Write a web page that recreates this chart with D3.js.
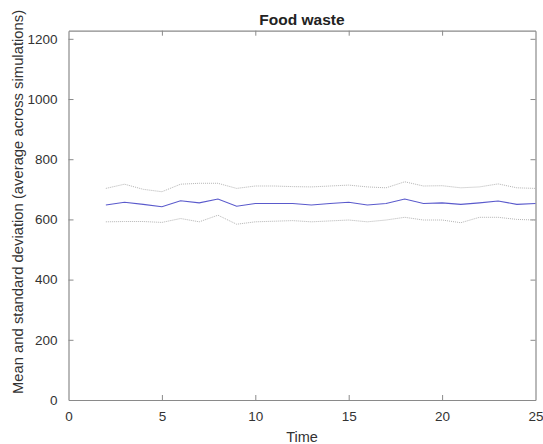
<!DOCTYPE html>
<html><head><meta charset="utf-8">
<script src="https://cdn.jsdelivr.net/npm/d3@7"></script>
<style>
body{margin:0;background:#fff;}
svg{display:block;font-family:"Liberation Sans",Arial,sans-serif;}
</style></head>
<body><svg id="c" width="543" height="444"></svg>
<script>
const time = [2,3,4,5,6,7,8,9,10,11,12,13,14,15,16,17,18,19,20,21,22,23,24,25];
const meanVals  = [648,657,650,642,662,655,668,644,653,653,653,648,653,657,648,653,668,653,655,650,655,661,650,653];
const upperVals = [703,717,700,692,717,720,720,703,711,711,709,708,711,714,708,705,725,711,712,705,708,718,705,703];
const lowerVals = [592,593,593,590,603,592,614,584,592,594,596,592,595,598,592,598,607,598,598,589,607,607,600,598];
const xTicks = [0,5,10,15,20,25];
const yTicks = [0,200,400,600,800,1000,1200];

const svg = d3.select("#c");
const L = 68.5, R = 535.5, T = 30.7, B = 400;
const x = d3.scaleLinear().domain([0,25]).range([L,R]);
const y = d3.scaleLinear().domain([0,1227]).range([B,T]);
const axisCol = "#8a8a8a", textCol = "#333";
const fmt = d3.format("d");

// axes
const gx = svg.append("g").attr("transform",`translate(0,${B})`)
  .call(d3.axisBottom(x).tickValues(xTicks).tickFormat(fmt).tickSizeInner(-5).tickSizeOuter(0).tickPadding(11));
const gxt = svg.append("g").attr("transform",`translate(0,${T})`)
  .call(d3.axisTop(x).tickValues(xTicks).tickSizeInner(-5).tickSizeOuter(0).tickFormat(""));
const gy = svg.append("g").attr("transform",`translate(${L},0)`)
  .call(d3.axisLeft(y).tickValues(yTicks).tickFormat(fmt).tickSizeInner(-5).tickSizeOuter(0).tickPadding(11));
const gyr = svg.append("g").attr("transform",`translate(${R},0)`)
  .call(d3.axisRight(y).tickValues(yTicks).tickSizeInner(-5).tickSizeOuter(0).tickFormat(""));
[gx,gxt,gy,gyr].forEach(g=>{
  g.select(".domain").attr("stroke",axisCol).attr("stroke-width",1.2);
  g.selectAll(".tick line").attr("stroke",axisCol);
  g.selectAll(".tick text").attr("fill",textCol).style("font-size","13.5px").style("font-family","'Liberation Sans',Arial,sans-serif");
});
gx.selectAll(".tick").filter(d=>d===0||d===25).select("line").remove();
gxt.selectAll(".tick").filter(d=>d===0||d===25).select("line").remove();
gy.selectAll(".tick").filter(d=>d===0).select("line").remove();
gyr.selectAll(".tick").filter(d=>d===0).select("line").remove();

// lines
const mk = arr => d3.line().x((d,i)=>x(time[i])).y(d=>y(d))(arr);
svg.append("path").attr("d",mk(upperVals)).attr("fill","none").attr("stroke","#b4b4b4").attr("stroke-width",1).attr("stroke-dasharray","1,1");
svg.append("path").attr("d",mk(lowerVals)).attr("fill","none").attr("stroke","#b4b4b4").attr("stroke-width",1).attr("stroke-dasharray","1,1");
svg.append("path").attr("d",mk(meanVals)).attr("fill","none").attr("stroke","#5a5acc").attr("stroke-width",1.1);

// labels
svg.append("text").attr("x",(L+R)/2).attr("y",25).attr("text-anchor","middle")
  .style("font-size","15.5px").style("font-weight","bold").attr("fill","#222").text("Food waste");
svg.append("text").attr("x",(L+R)/2).attr("y",442).attr("text-anchor","middle")
  .style("font-size","14.5px").attr("fill",textCol).text("Time");
svg.append("text").attr("transform",`translate(23,202) rotate(-90)`).attr("text-anchor","middle")
  .style("font-size","14.8px").attr("fill",textCol).text("Mean and standard deviation (average across simulations)");
</script></body></html>
